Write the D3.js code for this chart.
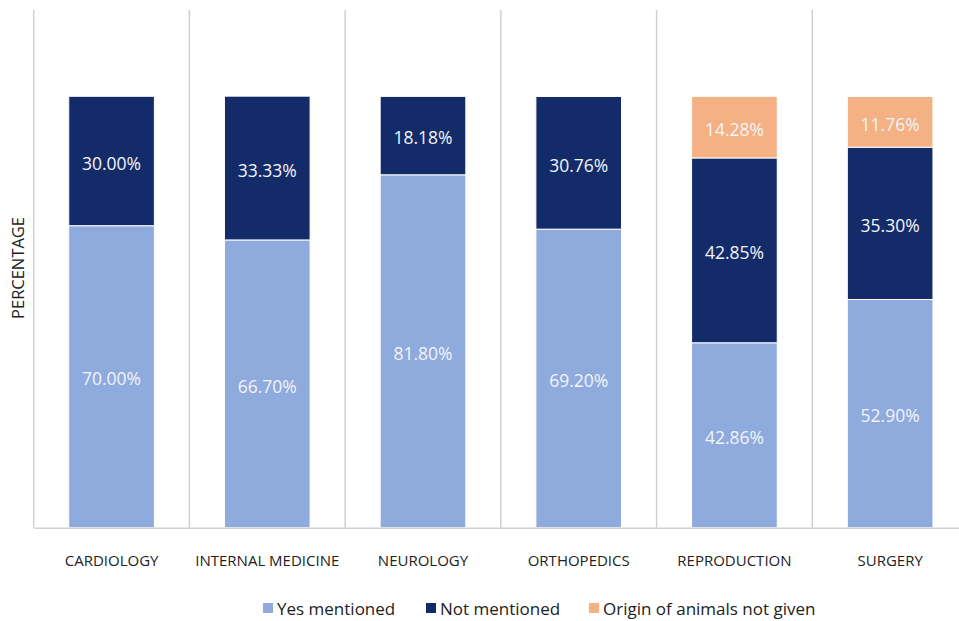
<!DOCTYPE html>
<html>
<head>
<meta charset="utf-8">
<script src="https://cdn.jsdelivr.net/npm/d3@7"></script>
<style>
  html, body { margin: 0; padding: 0; background: #fff; }
  svg { display: block; font-family: "Open Sans", "Noto Sans", sans-serif; }
</style>
</head>
<body>
<svg id="chart" width="959" height="621"></svg>
<script>
// Departments and the share of studies in each reporting category (%)
const categories = ["CARDIOLOGY", "INTERNAL MEDICINE", "NEUROLOGY", "ORTHOPEDICS", "REPRODUCTION", "SURGERY"];
const yesMentioned = [70.00, 66.70, 81.80, 69.20, 42.86, 52.90];
const notMentioned = [30.00, 33.33, 18.18, 30.76, 42.85, 35.30];
const originNotGiven = [0, 0, 0, 0, 14.28, 11.76];
const seriesNames = ["Yes mentioned", "Not mentioned", "Origin of animals not given"];
const seriesColors = ["#8faadc", "#142b69", "#f4b183"];

const rows = categories.map((c, i) => ({
  category: c,
  "Yes mentioned": yesMentioned[i],
  "Not mentioned": notMentioned[i],
  "Origin of animals not given": originNotGiven[i]
}));

const svg = d3.select("#chart");
const plot = { left: 33.7, right: 968, top: 10, bottom: 527.7 };

const x = d3.scaleBand()
  .domain(categories)
  .range([plot.left, plot.right])
  .paddingInner(0)
  .paddingOuter(0);

const y = d3.scaleLinear().domain([0, 120]).range([plot.bottom, plot.top]);
const color = d3.scaleOrdinal().domain(seriesNames).range(seriesColors);

// Category separators (vertical gridlines)
const sepPositions = categories.map(c => x(c)).concat([plot.right]);
svg.append("g")
  .selectAll("line")
  .data(sepPositions)
  .join("line")
  .attr("x1", d => d).attr("x2", d => d)
  .attr("y1", plot.top).attr("y2", plot.bottom)
  .attr("stroke", "#d0d0d0")
  .attr("stroke-width", 1.5);

// Stacked bars
const stack = d3.stack().keys(seriesNames);
const layers = stack(rows);
const barWidth = x.bandwidth() * 0.55;

const layerG = svg.append("g")
  .selectAll("g")
  .data(layers)
  .join("g")
  .attr("fill", d => color(d.key));

layerG.selectAll("rect")
  .data(d => d.filter(s => s[1] - s[0] > 0))
  .join("rect")
  .attr("x", d => x(d.data.category) + (x.bandwidth() - barWidth) / 2)
  .attr("width", barWidth)
  .attr("y", d => y(d[1]))
  .attr("height", d => y(d[0]) - y(d[1]))
  .attr("stroke", "#ffffff")
  .attr("stroke-width", 1);

// Value labels inside segments
layerG.selectAll("text")
  .data(d => d.filter(s => s[1] - s[0] > 0).map(s => ({ s, key: d.key })))
  .join("text")
  .attr("x", d => x(d.s.data.category) + x.bandwidth() / 2)
  .attr("y", d => (y(d.s[0]) + y(d.s[1])) / 2)
  .attr("dy", "0.5em")
  .attr("text-anchor", "middle")
  .attr("fill", "#f2f4f8")
  .attr("font-size", 17.5)
  .text(d => d.s.data[d.key].toFixed(2) + "%");

// Baseline axis with category labels
const xAxis = svg.append("g")
  .attr("transform", `translate(0,${plot.bottom})`)
  .call(d3.axisBottom(x).tickSize(0).tickPadding(28));
xAxis.select(".domain").attr("stroke", "#d0d0d0").attr("stroke-width", 1.5);
xAxis.selectAll(".tick text")
  .attr("font-family", "'Open Sans', sans-serif")
  .attr("font-size", 15)
  .attr("fill", "#222");

// Y-axis title
svg.append("text")
  .attr("transform", "translate(24,268) rotate(-90)")
  .attr("text-anchor", "middle")
  .attr("font-size", 16.5)
  .attr("fill", "#222")
  .text("PERCENTAGE");

// Legend
const legendItems = [
  { name: seriesNames[0], x: 263 },
  { name: seriesNames[1], x: 426 },
  { name: seriesNames[2], x: 589 }
];
const legend = svg.append("g").attr("transform", "translate(0,609)");
const li = legend.selectAll("g").data(legendItems).join("g")
  .attr("transform", d => `translate(${d.x},0)`);
li.append("rect")
  .attr("x", 0).attr("y", -6).attr("width", 10).attr("height", 10)
  .attr("fill", d => color(d.name));
li.append("text")
  .attr("x", 14).attr("y", 0).attr("dy", "0.35em")
  .attr("font-size", 17)
  .attr("fill", "#222")
  .text(d => d.name);
</script>
</body>
</html>
